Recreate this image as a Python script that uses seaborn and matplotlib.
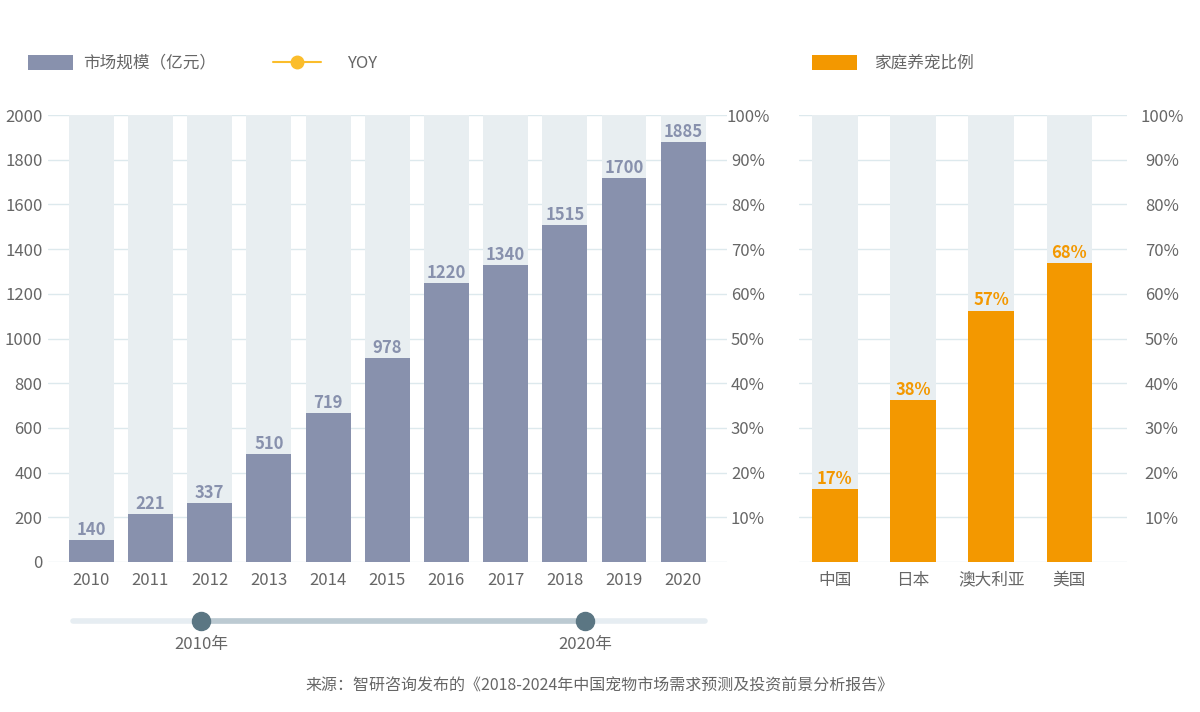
import matplotlib
matplotlib.use("Agg")
import matplotlib.pyplot as plt
import seaborn as sns
from matplotlib.patches import Rectangle
from matplotlib.lines import Line2D

# data
years = ["2010", "2011", "2012", "2013", "2014", "2015", "2016", "2017", "2018", "2019", "2020"]
market_labels = [140, 221, 337, 510, 719, 978, 1220, 1340, 1515, 1700, 1885]
market_bars = [98, 215, 262, 483, 667, 913, 1248, 1329, 1508, 1716, 1879]
countries = ["中国", "日本", "澳大利亚", "美国"]
pet_ratio = [17, 38, 57, 68]
pet_bars = [16.3, 36.2, 56.2, 66.9]
left_ticks = list(range(0, 2001, 200))
pct_ticks = list(range(10, 101, 10))
slider_labels = ["2010年", "2020年"]
legend_labels = ["市场规模（亿元）", "YOY", "家庭养宠比例"]
source = "来源：智研咨询发布的《2018-2024年中国宠物市场需求预测及投资前景分析报告》"

# colours
BAR = "#8891ad"
BG = "#e8eef1"
GRID = "#dde9ed"
ORANGE = "#f39800"
YELLOW = "#fbbd2b"
TEXT = "#666666"
FS = 12

sns.set_theme(style="white")
plt.rcParams["font.family"] = ["Noto Sans CJK SC", "DejaVu Sans"]
plt.rcParams["axes.unicode_minus"] = False

W, H = 1200, 712
fig = plt.figure(figsize=(W / 100, H / 100), dpi=100)


def px(x, y):
    return x / W, 1 - y / H


def ax_rect(x0, y0, x1, y1):
    return [x0 / W, 1 - y1 / H, (x1 - x0) / W, (y1 - y0) / H]


# ---- left chart: market size ----
ax = fig.add_axes(ax_rect(48, 115, 727, 562))
sns.barplot(x=years, y=[2000] * len(years), color=BG, saturation=1, width=0.76,
            linewidth=0, ax=ax)
sns.barplot(x=years, y=market_bars, color=BAR, saturation=1, width=0.76,
            linewidth=0, ax=ax)
for i, (h, lab) in enumerate(zip(market_bars, market_labels)):
    ax.annotate(str(lab), (i, h), xytext=(0, 1), textcoords="offset points",
                ha="center", va="bottom", fontsize=FS, fontweight="bold", color=BAR)
ax.set_xlim(-0.73, len(years) - 1 + 0.74)
ax.set_ylim(0, 2000)
ax.set_yticks(left_ticks)
ax.set_yticklabels([str(t) for t in left_ticks])
ax.set_axisbelow(True)
ax.yaxis.grid(True, color=GRID, lw=1)
ax.set_xlabel("")
ax.set_ylabel("")
ax.tick_params(axis="both", length=0, labelsize=FS, labelcolor=TEXT)
ax.tick_params(axis="y", pad=4)
ax.tick_params(axis="x", pad=7)
sns.despine(ax=ax, left=True, bottom=True)

ax2 = ax.twinx()
ax2.set_ylim(0, 100)
ax2.set_yticks(pct_ticks)
ax2.set_yticklabels([f"{t}%" for t in pct_ticks], ha="center")
ax2.tick_params(axis="y", length=0, labelsize=FS, labelcolor=TEXT, pad=15)
ax2.grid(False)
for s in ax2.spines.values():
    s.set_visible(False)

# ---- right chart: pet ownership ratio ----
ax3 = fig.add_axes(ax_rect(799, 115, 1127, 562))
sns.barplot(x=countries, y=[100] * len(countries), color=BG, saturation=1, width=0.58,
            linewidth=0, ax=ax3)
sns.barplot(x=countries, y=pet_bars, color=ORANGE, saturation=1, width=0.58,
            linewidth=0, ax=ax3)
for i, (h, lab) in enumerate(zip(pet_bars, pet_ratio)):
    ax3.annotate(f"{lab}%", (i, h), xytext=(0, 1), textcoords="offset points",
                 ha="center", va="bottom", fontsize=FS, fontweight="bold", color=ORANGE)
ax3.set_xlim(-0.46, len(countries) - 1 + 0.74)
ax3.set_ylim(0, 100)
ax3.yaxis.tick_right()
ax3.set_yticks([0] + pct_ticks)
ax3.set_yticklabels([""] + [f"{t}%" for t in pct_ticks], ha="center")
ax3.set_axisbelow(True)
ax3.yaxis.grid(True, color=GRID, lw=1)
ax3.set_xlabel("")
ax3.set_ylabel("")
ax3.tick_params(axis="both", length=0, labelsize=FS, labelcolor=TEXT)
ax3.tick_params(axis="y", pad=25)
ax3.tick_params(axis="x", pad=7)
for s in ax3.spines.values():
    s.set_visible(False)

# ---- legend ----
fig.add_artist(Rectangle(px(28, 70), 45 / W, 15 / H, transform=fig.transFigure, color=BAR, lw=0))
fig.text(*px(83, 63), legend_labels[0], ha="left", va="center", fontsize=FS, color=TEXT)
x0, y0 = px(273, 62)
x1, _ = px(321, 62)
fig.add_artist(Line2D([x0, x1], [y0, y0], transform=fig.transFigure, color=YELLOW, lw=1.5))
fig.add_artist(Line2D([(x0 + x1) / 2], [y0], transform=fig.transFigure, color=YELLOW,
                      marker="o", markersize=9, lw=0))
fig.text(*px(347, 63), legend_labels[1], ha="left", va="center", fontsize=FS, color=TEXT)
fig.add_artist(Rectangle(px(812, 70), 45 / W, 15 / H, transform=fig.transFigure, color=ORANGE, lw=0))
fig.text(*px(875, 63), legend_labels[2], ha="left", va="center", fontsize=FS, color=TEXT)

# ---- slider ----
ts, ty = px(73, 621)
te, _ = px(705, 621)
h1, _ = px(201, 621)
h2, _ = px(585, 621)
fig.add_artist(Line2D([ts, te], [ty, ty], transform=fig.transFigure, color="#e6edf2",
                      lw=4, solid_capstyle="round"))
fig.add_artist(Line2D([h1, h2], [ty, ty], transform=fig.transFigure, color="#bccad2", lw=4))
fig.add_artist(Line2D([h1, h2], [ty, ty], transform=fig.transFigure, color="#5b7683",
                      marker="o", markersize=13, lw=0))
fig.text(*px(201, 644), slider_labels[0], ha="center", va="center", fontsize=FS, color=TEXT)
fig.text(*px(585, 644), slider_labels[1], ha="center", va="center", fontsize=FS, color=TEXT)

# ---- source ----
fig.text(*px(600, 686), source, ha="center", va="center", fontsize=11.5, color=TEXT)

fig.savefig("out.png", dpi=100, facecolor="white")
